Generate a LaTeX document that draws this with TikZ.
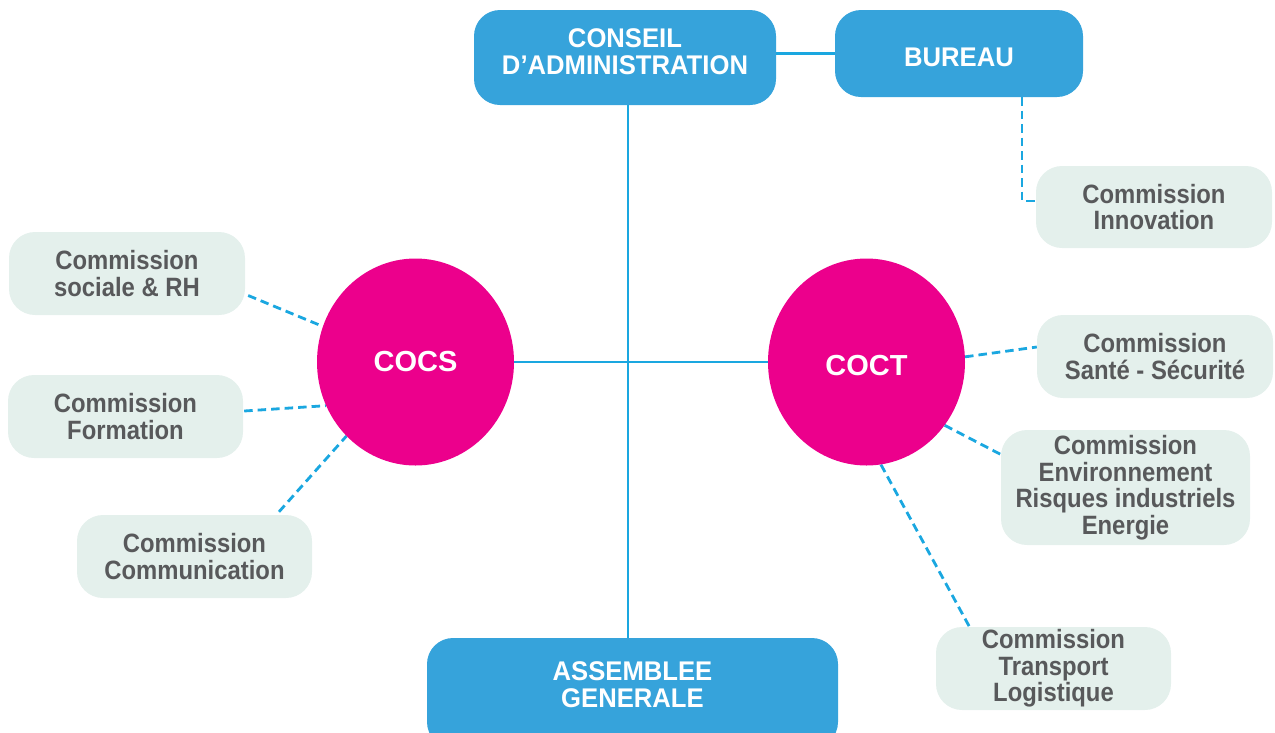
\documentclass[tikz,border=0pt]{standalone}
\usepackage{fontspec}
\setmainfont{Liberation Sans}
\newfontfamily\grayfont[FakeStretch=0.9]{Liberation Sans}
\newfontfamily\bluefont[FakeStretch=0.95]{Liberation Sans}
\usetikzlibrary{shapes.geometric,backgrounds}
\definecolor{boxblue}{HTML}{36A3DB}
\definecolor{pinkc}{HTML}{EC008C}
\definecolor{grayfill}{HTML}{E4F0EC}
\definecolor{textgray}{HTML}{58595B}
\definecolor{lineblue}{HTML}{1AA7E0}
\begin{document}
\begin{tikzpicture}[x=1pt,y=-1pt,
  bluebox/.style={fill=boxblue, rounded corners=26pt, inner sep=0pt},
  bluetext/.style={text=white, font=\bluefont\fontsize{27}{27}\selectfont\bfseries, align=center, inner sep=0pt},
  graybox/.style={fill=grayfill, rounded corners=26pt, text=textgray,
    font=\grayfont\fontsize{26.5}{26.5}\selectfont\bfseries, align=center, inner sep=0pt,
    minimum width=236pt, minimum height=83pt},
  circ/.style={ellipse, fill=pinkc, minimum width=197pt, minimum height=207pt, inner sep=0pt},
  circtext/.style={text=white, font=\fontsize{29}{30}\selectfont\bfseries, inner sep=0pt},
  solidline/.style={draw=lineblue, line width=2.5pt},
  dashline/.style={draw=lineblue, line width=2.8pt, dash pattern=on 8.5pt off 5pt}]
\path[use as bounding box] (0,0) rectangle (1275,732);
\clip (0,0) rectangle (1275,732);

% blue boxes
\node[bluebox, minimum width=302pt, minimum height=95pt] (ca) at (625,57.5) {};
\node[bluetext] (catext) at (625,52) {CONSEIL\\D’ADMINISTRATION};
\node[bluebox, minimum width=248pt, minimum height=87pt] (bureau) at (959,53.5) {};
\node[bluetext] (butext) at (959,57) {BUREAU};
\node[bluebox, minimum width=411pt, minimum height=110pt] (ag) at (632.5,693) {};
\node[bluetext] (agtext) at (632.5,685) {ASSEMBLEE\\GENERALE};

% circles
\node[circ] (cocs) at (415.5,362) {};
\node[circtext] (cocstext) at (415.5,362) {COCS};
\node[circ] (coct) at (866.5,362) {};
\node[circtext] (cocttext) at (866.5,366) {COCT};

% gray boxes
\node[graybox] (soc) at (127,273.5) {Commission\\sociale \& RH};
\node[graybox, minimum width=235pt] (form) at (125.5,416.5) {Commission\\Formation};
\node[graybox, minimum width=235pt] (comm) at (194.5,556.5) {Commission\\Communication};
\node[graybox, minimum height=82pt] (innov) at (1154,207) {Commission\\Innovation};
\node[graybox] (sante) at (1155,356.5) {Commission\\Santé - Sécurité};
\node[graybox, minimum width=249pt, minimum height=115pt] (env) at (1125.5,487.5) {Commission\\Environnement\\Risques industriels\\Energie};
\node[graybox, minimum width=235pt] (transp) at (1053.5,668.5) {Commission\\Transport\\Logistique};

\coordinate (vx) at (628,0);
\coordinate (b1) at ([shift={(63,0)}]bureau.south);

\begin{scope}[on background layer]
\draw[solidline] (ca.east |- bureau.west) -- (bureau.west);
\draw[solidline] (vx |- ca.south) -- (vx |- ag.north);
\draw[solidline] (cocs) -- (coct);
\draw[dashline] ([shift={(3,22)}]soc.east) -- (cocs.159);
\draw[dashline] ([shift={(1,-5.5)}]form.east) -- (cocs.206);
\draw[dashline] ([shift={(84.5,-3)}]comm.north) -- (cocs.227);
\draw[dashline] (b1) |- ([shift={(0,-6)}]innov.west);
\draw[dashline] (coct.3) -- ([shift={(0,-9.5)}]sante.west);
\draw[dashline] (coct.-39) -- ([shift={(1,-32.5)}]env.west);
\draw[dashline] (coct.-82) -- ([shift={(-83.5,1)}]transp.north);
\end{scope}
\end{tikzpicture}
\end{document}
